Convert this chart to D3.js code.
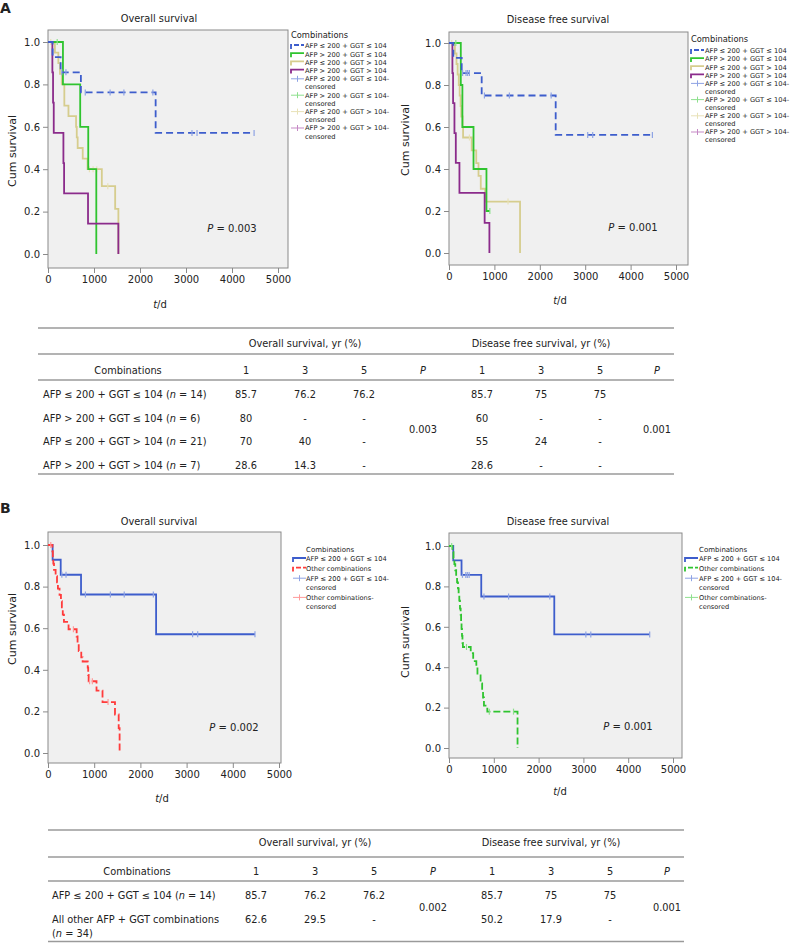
<!DOCTYPE html>
<html><head><meta charset="utf-8">
<script src="https://cdn.jsdelivr.net/npm/d3@7"></script>
<style>
body{margin:0;background:#fff}
svg{display:block}
text{font-family:"DejaVu Sans",Verdana,sans-serif;fill:#222}
</style>
</head><body>
<svg id="chart" width="795" height="943"></svg>
<script>
// ---------------- DATA ----------------
const timeTicks = [0, 1000, 2000, 3000, 4000, 5000];
const survTicks = [0, 0.2, 0.4, 0.6, 0.8, 1.0];

const groupNames = ["AFP ≤ 200 + GGT ≤ 104", "AFP > 200 + GGT ≤ 104", "AFP ≤ 200 + GGT > 104", "AFP > 200 + GGT > 104"];
const otherName = "Other combinations";

// Overall survival, four groups: [time (d), cumulative survival]
const osLowLow = [[0,1],[100,0.929],[275,0.857],[715,0.762],[2340,0.571]];
const osLowLowCens = [300,390,810,1350,1650,2280,3130,3240,4480];
const osHighLow = [[0,1],[325,0.8],[700,0.6],[875,0.4],[1050,0]];
const osHighLowCens = [200];
const osLowHigh = [[0,1],[150,0.95],[225,0.90],[260,0.85],[300,0.80],[355,0.70],[445,0.65],[610,0.60],[625,0.55],[645,0.50],[755,0.45],[860,0.40],[1170,0.32],[1460,0.213],[1530,0]];
const osLowHighCens = [60,900,980,1060,1300];
const osHighHigh = [[0,1],[95,0.857],[110,0.714],[125,0.571],[335,0.429],[350,0.286],[870,0.143],[1530,0]];
const osHighHighCens = [];

// Disease free survival, four groups
const dfsLowLow = [[0,1],[95,0.929],[280,0.857],[720,0.75],[2350,0.5625]];
const dfsLowLowCens = [300,375,410,450,780,1330,2250,3055,3165,4480];
const dfsHighLow = [[0,1],[260,0.8],[295,0.6],[540,0.4],[825,0.2]];
const dfsHighLowCens = [150,900];
const dfsLowHigh = [[0,1],[130,0.95],[165,0.9],[190,0.85],[215,0.8],[235,0.75],[255,0.7],[270,0.65],[300,0.6],[310,0.55],[500,0.489],[600,0.428],[650,0.367],[700,0.306],[795,0.245],[1565,0]];
const dfsLowHighCens = [60,450,1300];
const dfsHighHigh = [[0,1],[75,0.857],[90,0.714],[120,0.571],[150,0.429],[230,0.286],[785,0.143],[890,0]];
const dfsHighHighCens = [];

// Other combinations (pooled)
const osOther = [[0,1],[95,0.97],[105,0.94],[115,0.91],[130,0.88],[165,0.85],[195,0.82],[215,0.79],[250,0.76],[280,0.73],[300,0.70],[320,0.665],[345,0.63],[445,0.595],[620,0.56],[640,0.525],[665,0.49],[720,0.46],[750,0.44],[860,0.41],[870,0.375],[880,0.345],[1050,0.30],[1180,0.245],[1450,0.185],[1530,0.12],[1550,0]];
const osOtherCens = [60,550,900,960,1300];
const dfsOther = [[0,1],[75,0.97],[100,0.94],[120,0.91],[140,0.88],[160,0.85],[180,0.82],[200,0.79],[215,0.76],[230,0.73],[245,0.69],[260,0.66],[270,0.62],[280,0.59],[290,0.555],[300,0.52],[310,0.50],[485,0.47],[540,0.43],[610,0.40],[635,0.36],[705,0.32],[740,0.285],[760,0.25],[780,0.21],[855,0.18],[1530,0]];
const dfsOtherCens = [60,390,900,1440];

// Tables
const yearLabels = ["1", "3", "5"];
const tableARows = [["AFP ≤ 200 + GGT ≤ 104", 14], ["AFP > 200 + GGT ≤ 104", 6], ["AFP ≤ 200 + GGT > 104", 21], ["AFP > 200 + GGT > 104", 7]];
const tableAOS = [["85.7","76.2","76.2"],["80","-","-"],["70","40","-"],["28.6","14.3","-"]];
const tableADFS = [["85.7","75","75"],["60","-","-"],["55","24","-"],["28.6","-","-"]];
const tableAP = ["0.003", "0.001"];
const tableBRows = [["AFP ≤ 200 + GGT ≤ 104", 14], ["All other AFP + GGT combinations", 34]];
const tableBOS = [["85.7","76.2","76.2"],["62.6","29.5","-"]];
const tableBDFS = [["85.7","75","75"],["50.2","17.9","-"]];
const tableBP = ["0.002", "0.001"];
const pValues = ["0.003", "0.001", "0.002", "0.001"];

// ---------------- STYLE ----------------
const C = {
  blue: "#3d5dcc", blueL: "#8ea3e4",
  green: "#2fc42f", greenL: "#8ee08e",
  tan: "#d6cd8e", tanL: "#e8e2b8",
  purple: "#8b2b8b", purpleL: "#c589c5",
  red: "#ff3b3b", redL: "#ff9a9a"
};

const svg = d3.select("#chart");

function survAt(steps, t) {
  let s = 1;
  for (const [ti, si] of steps) if (ti <= t) s = si;
  return s;
}

function panel(cfg) {
  const g = svg.append("g");
  const x = d3.scaleLinear().domain([0, 5000]).range([cfg.x0, cfg.x5]);
  const y = d3.scaleLinear().domain([0, 1]).range([cfg.y0, cfg.y1]);
  g.append("rect").attr("x", cfg.L).attr("y", cfg.T)
    .attr("width", cfg.R - cfg.L).attr("height", cfg.B - cfg.T)
    .attr("fill", "#f0f0f0").attr("stroke", "#8a8a8a").attr("stroke-width", 1);

  const xa = g.append("g").attr("transform", `translate(0,${cfg.B})`)
    .call(d3.axisBottom(x).tickValues(timeTicks).tickSize(5).tickFormat(d3.format("d")));
  const ya = g.append("g").attr("transform", `translate(${cfg.L},0)`)
    .call(d3.axisLeft(y).tickValues(survTicks).tickSize(5).tickFormat(d3.format(".1f")));
  [xa, ya].forEach(a => {
    a.select(".domain").remove();
    a.selectAll(".tick line").attr("stroke", "#8a8a8a");
    a.selectAll(".tick text").attr("font-size", 10).attr("font-family", "DejaVu Sans").attr("fill", "#222");
  });

  const line = d3.line().x(d => x(d[0])).y(d => y(d[1])).curve(d3.curveStepAfter);
  cfg.series.forEach(s => {
    const pts = s.steps.map(d => d.slice());
    const last = pts[pts.length - 1];
    const maxC = s.cens.length ? d3.max(s.cens) : 0;
    if (last[1] > 0 && maxC > last[0]) pts.push([maxC, last[1]]);
    g.append("path").attr("d", line(pts)).attr("fill", "none")
      .attr("stroke", s.color).attr("stroke-width", 1.8)
      .attr("stroke-dasharray", s.dash || null);
    g.selectAll(null).data(s.cens).enter().append("line")
      .attr("x1", t => x(t)).attr("x2", t => x(t))
      .attr("y1", t => y(survAt(s.steps, t)) - 3).attr("y2", t => y(survAt(s.steps, t)) + 3)
      .attr("stroke", s.light).attr("stroke-width", 1.2);
  });

  g.append("text").attr("x", cfg.titleX).attr("y", cfg.titleY).attr("dy", "0.35em")
    .attr("text-anchor", "middle").attr("font-size", 9.8).text(cfg.title);
  g.append("text").attr("transform", `translate(${cfg.ylabX},${cfg.ylabY}) rotate(-90)`)
    .attr("dy", "0.35em").attr("text-anchor", "middle").attr("font-size", 11).text("Cum survival");
  const td = g.append("text").attr("x", cfg.tdX).attr("y", cfg.tdY).attr("dy", "0.35em")
    .attr("text-anchor", "middle").attr("font-size", 10);
  td.append("tspan").attr("font-style", "italic").text("t");
  td.append("tspan").text("/d");
  const pt = g.append("text").attr("x", cfg.pX).attr("y", cfg.pY).attr("dy", "0.35em")
    .attr("text-anchor", "middle").attr("font-size", 10);
  pt.append("tspan").attr("font-style", "italic").text("P");
  pt.append("tspan").text(" = " + cfg.p);

  // legend
  const lg = cfg.legend;
  g.append("text").attr("x", lg.headX).attr("y", lg.headY).attr("dy", "0.35em")
    .attr("font-size", lg.headSize).text("Combinations");
  let row = 0;
  lg.items.forEach(it => {
    const yy = lg.start + row * lg.step;
    const sx = lg.symX;
    if (it.cens) {
      g.append("line").attr("x1", sx).attr("x2", sx + 13).attr("y1", yy).attr("y2", yy)
        .attr("stroke", it.color).attr("stroke-width", 1);
      g.append("line").attr("x1", sx + 6.5).attr("x2", sx + 6.5).attr("y1", yy - 3).attr("y2", yy + 3)
        .attr("stroke", it.color).attr("stroke-width", 1);
    } else {
      g.append("path").attr("d", `M${sx},${yy + 3}V${yy - 1}H${sx + 13}`)
        .attr("fill", "none").attr("stroke", it.color).attr("stroke-width", 1.8)
        .attr("stroke-dasharray", it.dash ? "5,2" : null);
    }
    g.append("text").attr("x", lg.textX).attr("y", yy).attr("dy", "0.35em")
      .attr("font-size", lg.itemSize).text(it.label + (it.cens ? "-" : ""));
    row++;
    if (it.cens) {
      g.append("text").attr("x", lg.textX).attr("y", lg.start + row * lg.step).attr("dy", "0.35em")
        .attr("font-size", lg.itemSize).text("censored");
      row++;
    }
  });
}

function legendItems4(dashFirst) {
  const cols = [C.blue, C.green, C.tan, C.purple];
  const light = [C.blueL, C.greenL, C.tanL, C.purpleL];
  const items = groupNames.map((n, i) => ({label: n, color: cols[i], dash: dashFirst && i === 0}));
  groupNames.forEach((n, i) => items.push({label: n, color: light[i], cens: true}));
  return items;
}

// Panel A – overall survival
panel({
  L: 48, R: 288, T: 30, B: 268, x0: 48, x5: 278, y0: 254, y1: 42,
  title: "Overall survival", titleX: 159, titleY: 19,
  ylabX: 12, ylabY: 151, tdX: 160, tdY: 304, pX: 232, pY: 228, p: pValues[0],
  series: [
    {steps: osLowHigh, cens: osLowHighCens, color: C.tan, light: C.tanL},
    {steps: osHighLow, cens: osHighLowCens, color: C.green, light: C.greenL},
    {steps: osHighHigh, cens: osHighHighCens, color: C.purple, light: C.purpleL},
    {steps: osLowLow, cens: osLowLowCens, color: C.blue, light: C.blueL, dash: "7,4"}
  ],
  legend: {headX: 291, headY: 35, headSize: 8.3, symX: 291, textX: 305, start: 46, step: 8.2, itemSize: 6.7,
    items: legendItems4(true)}
});

// Panel A – disease free survival
panel({
  L: 449, R: 688, T: 32, B: 265, x0: 449, x5: 676, y0: 253, y1: 43,
  title: "Disease free survival", titleX: 558, titleY: 20,
  ylabX: 405, ylabY: 140, tdX: 560, tdY: 300, pX: 633, pY: 227, p: pValues[1],
  series: [
    {steps: dfsLowHigh, cens: dfsLowHighCens, color: C.tan, light: C.tanL},
    {steps: dfsHighLow, cens: dfsHighLowCens, color: C.green, light: C.greenL},
    {steps: dfsHighHigh, cens: dfsHighHighCens, color: C.purple, light: C.purpleL},
    {steps: dfsLowLow, cens: dfsLowLowCens, color: C.blue, light: C.blueL, dash: "7,4"}
  ],
  legend: {headX: 691, headY: 39, headSize: 8.3, symX: 691, textX: 705, start: 51, step: 8.1, itemSize: 6.7,
    items: legendItems4(true)}
});

// Panel B – overall survival
panel({
  L: 48, R: 281, T: 532, B: 763, x0: 48, x5: 279, y0: 753, y1: 545,
  title: "Overall survival", titleX: 159, titleY: 522,
  ylabX: 12, ylabY: 629, tdX: 162, tdY: 798, pX: 234, pY: 727, p: pValues[2],
  series: [
    {steps: osLowLow, cens: osLowLowCens, color: C.blue, light: C.blueL},
    {steps: osOther, cens: osOtherCens, color: C.red, light: C.redL, dash: "7,3"}
  ],
  legend: {headX: 306, headY: 550, headSize: 7, symX: 293, textX: 306, start: 559, step: 9.6, itemSize: 6.6,
    items: [
      {label: groupNames[0], color: C.blue},
      {label: otherName, color: C.red, dash: true},
      {label: groupNames[0], color: C.blueL, cens: true},
      {label: otherName, color: C.redL, cens: true}
    ]}
});

// Panel B – disease free survival
panel({
  L: 449, R: 682, T: 533, B: 758, x0: 449, x5: 673, y0: 748, y1: 546,
  title: "Disease free survival", titleX: 558, titleY: 522,
  ylabX: 405, ylabY: 642, tdX: 560, tdY: 791, pX: 628, pY: 726, p: pValues[3],
  series: [
    {steps: dfsLowLow, cens: dfsLowLowCens, color: C.blue, light: C.blueL},
    {steps: dfsOther, cens: dfsOtherCens, color: C.green, light: C.greenL, dash: "7,3"}
  ],
  legend: {headX: 699, headY: 550, headSize: 7, symX: 685, textX: 699, start: 559, step: 9.6, itemSize: 6.6,
    items: [
      {label: groupNames[0], color: C.blue},
      {label: otherName, color: C.green, dash: true},
      {label: groupNames[0], color: C.blueL, cens: true},
      {label: otherName, color: C.greenL, cens: true}
    ]}
});

// Panel labels
svg.append("text").attr("x", 0).attr("y", 13).attr("font-size", 14).attr("font-weight", "bold").attr("font-family", "Liberation Sans, Arial").text("A");
svg.append("text").attr("x", 0).attr("y", 513).attr("font-size", 14).attr("font-weight", "bold").attr("font-family", "Liberation Sans, Arial").text("B");

// ---------------- TABLES ----------------
function table(cfg, rows, os, dfs, pv) {
  const g = svg.append("g");
  const fs = 9.8;
  cfg.rules.forEach(yy => g.append("line").attr("x1", cfg.L).attr("x2", cfg.R)
    .attr("y1", yy).attr("y2", yy).attr("stroke", "#9a9a9a").attr("stroke-width", 1.3));
  const t = (x, y, s, anchor) => g.append("text").attr("x", x).attr("y", y).attr("dy", "0.35em")
    .attr("font-size", fs).attr("text-anchor", anchor || "middle").attr("fill", "#333").text(s);
  t((cfg.cols[0] + cfg.cols[2]) / 2, cfg.hY, "Overall survival, yr (%)");
  t((cfg.cols[4] + cfg.cols[6]) / 2, cfg.hY, "Disease free survival, yr (%)");
  t(cfg.combX, cfg.sY, "Combinations");
  [0, 1].forEach(k => {
    yearLabels.forEach((yl, i) => t(cfg.cols[k * 4 + i], cfg.sY, yl));
    t(cfg.cols[k * 4 + 3], cfg.sY, "P").attr("font-style", "italic");
    t(cfg.cols[k * 4 + 3], cfg.pY, pv[k]);
  });
  rows.forEach((r, i) => {
    const yy = cfg.rowY[i];
    const lab = g.append("text").attr("x", cfg.labX).attr("y", yy).attr("dy", "0.35em")
      .attr("font-size", fs).attr("fill", "#333");
    if (cfg.wrap && cfg.wrap[i]) {
      lab.text(r[0]);
      const l2 = g.append("text").attr("x", cfg.labX).attr("y", yy + cfg.wrap[i]).attr("dy", "0.35em")
        .attr("font-size", fs).attr("fill", "#333");
      l2.append("tspan").text("(");
      l2.append("tspan").attr("font-style", "italic").text("n");
      l2.append("tspan").text(" = " + r[1] + ")");
    } else {
      lab.append("tspan").text(r[0] + " (");
      lab.append("tspan").attr("font-style", "italic").text("n");
      lab.append("tspan").text(" = " + r[1] + ")");
    }
    os[i].forEach((v, j) => t(cfg.cols[j], yy, v).attr("fill", v === "-" ? "#888" : "#333"));
    dfs[i].forEach((v, j) => t(cfg.cols[4 + j], yy, v).attr("fill", v === "-" ? "#888" : "#333"));
  });
}

table({L: 38, R: 674, rules: [328, 354, 380, 474], hY: 344, sY: 371, combX: 128, labX: 43,
  cols: [246, 305, 364, 423, 482, 541, 600, 657], rowY: [395, 419, 442, 466], pY: 430},
  tableARows, tableAOS, tableADFS, tableAP);

table({L: 48, R: 684, rules: [830, 857, 881, 941.5], hY: 843, sY: 872, combX: 137, labX: 52,
  cols: [256, 315, 374, 433, 492, 551, 610, 667], rowY: [896, 920], pY: 908, wrap: [0, 14]},
  tableBRows, tableBOS, tableBDFS, tableBP);
</script>
</body></html>
